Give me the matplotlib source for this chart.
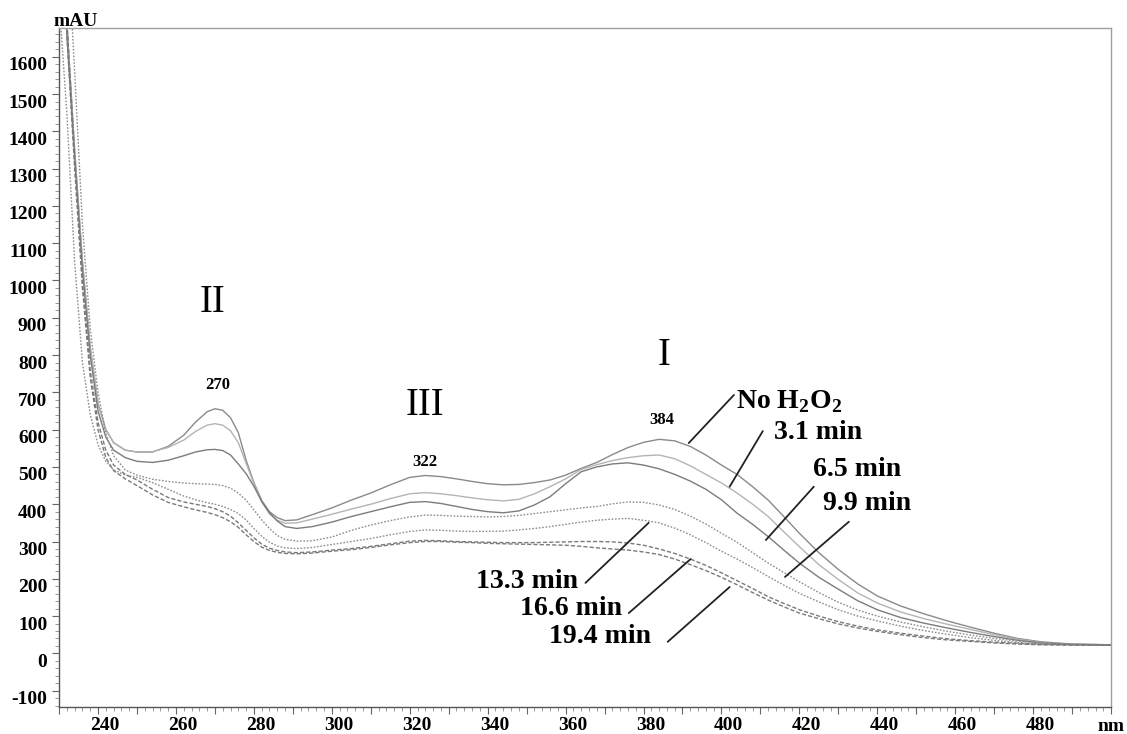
import numpy as np
import matplotlib.pyplot as plt
import matplotlib.transforms as mtransforms
from matplotlib.ticker import MultipleLocator, FuncFormatter

# uv-vis spectra recorded during h2o2 treatment, bands I-III
plt.rcParams['font.family'] = 'Liberation Serif'
plt.rcParams['mathtext.fontset'] = 'custom'
plt.rcParams['mathtext.rm'] = 'Liberation Serif:bold'
plt.rcParams['mathtext.bf'] = 'Liberation Serif:bold'
plt.rcParams['axes.unicode_minus'] = False

# wavelength grid (nm)
wavelength = [230, 232, 234, 236, 238, 240, 242, 244, 247, 250,
              254, 258, 262, 265, 268, 270, 272, 274, 276, 278,
              280, 282, 284, 286, 288, 291, 295, 300, 305, 310,
              315, 320, 324, 328, 332, 336, 340, 344, 348, 352,
              356, 360, 364, 368, 372, 376, 380, 384, 388, 392,
              396, 400, 404, 408, 412, 416, 420, 425, 430, 435,
              440, 446, 452, 458, 464, 470, 476, 482, 490, 500]

# absorbance (mAU) per reaction time
no_h2o2 = [2100, 1690, 1350, 1050, 820, 670, 600, 565, 545, 540,
           540, 555, 585, 620, 648, 656, 652, 632, 592, 518,
           458, 410, 380, 364, 356, 358, 372, 390, 411, 430,
           452, 472, 477, 474, 468, 461, 455, 452, 453, 458,
           465, 478, 496, 512, 533, 552, 566, 574, 570, 555,
           532, 505, 480, 447, 411, 367, 322, 270, 225, 186,
           154, 127, 106, 87, 70, 54, 40, 31, 25, 23]
t_3_1 = [2100, 1690, 1350, 1050, 820, 670, 600, 565, 545, 540,
         541, 552, 572, 595, 612, 616, 612, 597, 565, 510,
         455, 406, 374, 357, 349, 350, 360, 373, 387, 400,
         415, 428, 431, 428, 423, 417, 412, 409, 413, 428,
         447, 468, 493, 506, 517, 525, 530, 532, 522, 503,
         480, 457, 430, 400, 367, 326, 286, 238, 198, 162,
         135, 111, 93, 78, 64, 50, 38, 29, 24, 23]
t_6_5 = [2050, 1660, 1330, 1030, 800, 650, 580, 545, 525, 515,
         512, 518, 530, 540, 546, 547, 544, 532, 508, 482,
         448, 408, 377, 355, 340, 335, 340, 352, 367, 380,
         393, 405, 407, 402, 394, 386, 380, 377, 382, 398,
         420, 455, 487, 500, 508, 511, 505, 495, 480, 462,
         440, 412, 376, 346, 313, 277, 242, 204, 172, 141,
         117, 96, 81, 68, 56, 45, 35, 28, 24, 23]
t_9_9 = [2400, 1950, 1560, 1150, 870, 700, 590, 530, 492, 478,
         467, 461, 457, 455, 454, 453, 450, 443, 430, 411,
         385, 358, 335, 316, 306, 301, 302, 312, 330, 344,
         356, 366, 371, 370, 368, 367, 366, 367, 370, 375,
         380, 385, 390, 394, 401, 406, 405, 398, 386, 368,
         347, 322, 298, 270, 242, 217, 192, 163, 137, 116,
         100, 84, 71, 59, 49, 40, 33, 27, 24, 22]
t_13_3 = [1750, 1450, 1050, 780, 640, 560, 515, 492, 478, 472,
          458, 440, 422, 412, 404, 400, 394, 386, 375, 358,
          335, 314, 298, 288, 283, 281, 284, 292, 300, 308,
          318, 327, 331, 330, 328, 327, 327, 328, 331, 335,
          340, 346, 352, 357, 360, 362, 357, 350, 336, 318,
          297, 274, 253, 230, 206, 183, 161, 138, 117, 100,
          87, 73, 61, 51, 42, 35, 29, 25, 23, 22]
t_16_6 = [2100, 1700, 1330, 1000, 760, 620, 545, 505, 480, 465,
          440, 418, 406, 400, 394, 388, 380, 368, 350, 330,
          310, 293, 282, 276, 272, 270, 272, 277, 281, 287,
          294, 301, 303, 302, 300, 299, 298, 297, 297, 297,
          298, 299, 300, 300, 299, 296, 290, 280, 268, 253,
          236, 216, 195, 174, 152, 134, 117, 100, 85, 73,
          63, 54, 46, 39, 34, 30, 27, 24, 23, 22]
t_19_4 = [2050, 1660, 1300, 980, 740, 600, 525, 490, 468, 450,
          425, 405, 393, 385, 378, 372, 364, 353, 338, 318,
          300, 285, 276, 271, 268, 267, 269, 274, 278, 284,
          291, 297, 300, 300, 298, 297, 295, 294, 293, 292,
          291, 290, 287, 283, 280, 277, 272, 265, 253, 238,
          222, 204, 184, 163, 143, 125, 108, 93, 79, 68,
          59, 50, 42, 36, 32, 28, 25, 23, 22, 22]

spectra = [no_h2o2, t_3_1, t_6_5, t_9_9, t_13_3, t_16_6, t_19_4]
labels = ["No H$_2$O$_2$", "3.1 min", "6.5 min", "9.9 min",
          "13.3 min", "16.6 min", "19.4 min"]

# peak maxima and band names
peak_nm = [270, 322, 384]
bands = ["II", "III", "I"]

colors = ["#8a8a8a", "#b4b4b4", "#7c7c7c", "#8e8e8e", "#8e8e8e", "#7a7a7a", "#7a7a7a"]
styles = ["-", "-", "-", (0, (1.2, 1.2)), (0, (1.2, 1.2)), (0, (3, 1.5)), (0, (3, 1.5))]

fig = plt.figure(figsize=(11.27, 7.34), dpi=100)
ax = fig.add_axes([0.0524, 0.0372, 0.9335, 0.9251])

for y, c, ls in zip(spectra, colors, styles):
    ax.plot(wavelength, y, color=c, linestyle=ls, linewidth=1.0)

ax.set_xlim(230, 500)
ax.set_ylim(-143, 1678)

# axis frame: dark left/bottom, light top/right
for side in ["left", "bottom"]:
    ax.spines[side].set_color("#555555")
    ax.spines[side].set_linewidth(1.0)
for side in ["top", "right"]:
    ax.spines[side].set_color("#a0a0a0")
    ax.spines[side].set_linewidth(1.0)

ax.xaxis.set_major_locator(MultipleLocator(10))
ax.xaxis.set_minor_locator(MultipleLocator(2))
ax.xaxis.set_major_formatter(FuncFormatter(lambda v, p: f"{int(round(v))}" if round(v) % 20 == 0 and v < 495 else ""))
ax.yaxis.set_major_locator(MultipleLocator(100))
ax.yaxis.set_minor_locator(MultipleLocator(20))
ax.yaxis.set_major_formatter(FuncFormatter(lambda v, p: f"{int(round(v))}"))

ax.tick_params(which="major", direction="out", length=5, width=0.8, color="#666666",
               labelsize=14, top=False, right=False)
ax.tick_params(which="minor", direction="out", length=3, width=0.6, color="#888888",
               top=False, right=False)
ax.tick_params(axis="x", pad=2.5)
ax.tick_params(axis="y", pad=3.5)
for lab in ax.get_xticklabels() + ax.get_yticklabels():
    lab.set_fontweight("bold")

# printed labels sit a little right of / below their ticks
dx = mtransforms.ScaledTranslation(7 / 100, 0, fig.dpi_scale_trans)
dy = mtransforms.ScaledTranslation(0, -7 / 100, fig.dpi_scale_trans)
for lab in ax.xaxis.get_majorticklabels():
    lab.set_transform(lab.get_transform() + dx)
for lab in ax.yaxis.get_majorticklabels():
    lab.set_transform(lab.get_transform() + dy)

fig.text(76 / 1127, 1 - 26 / 734, "mAU", ha="center", va="baseline",
         fontsize=14, fontweight="bold")
fig.text(1111 / 1127, 1 - 731 / 734, "nm", ha="center", va="baseline",
         fontsize=14, fontweight="bold")

# band numerals and peak wavelengths
band_pos = [(269.5, 942), (323.8, 666), (385.2, 800)]
for name, (bx, by) in zip(bands, band_pos):
    ax.text(bx, by, name, ha="center", va="center", fontsize=28)
peak_y = [720, 513, 626]
peak_dx = [0.8, 2.0, 0.6]
for p, py, off in zip(peak_nm, peak_y, peak_dx):
    ax.text(p + off, py, str(p), ha="center", va="center", fontsize=12, fontweight="bold")

# leader lines from each label to its spectrum
leaders = [
    ((403.2, 693), (391.6, 564)),
    ((410.6, 596), (402.1, 447)),
    ((423.7, 447), (411.4, 304)),
    ((432.7, 353), (416.3, 205)),
    ((365.1, 189), (381.3, 350)),
    ((376.2, 108), (392.1, 253)),
    ((386.2, 31), (402.1, 178)),
]
text_pos = [
    (403.8, 674, "left"),
    (413.4, 591, "left"),
    (423.4, 492, "left"),
    (426.0, 403, "left"),
    (363.3, 192, "right"),
    (374.6, 119, "right"),
    (381.8, 44, "right"),
]
for lab, (p0, p1), (tx, ty, ha) in zip(labels, leaders, text_pos):
    ax.annotate("", xy=p1, xytext=p0,
                arrowprops=dict(arrowstyle="-", color="#222222", lw=1.3,
                                shrinkA=0, shrinkB=0))
    ax.text(tx, ty, lab, ha=ha, va="center", fontsize=20, fontweight="bold")

fig.savefig("out.png", dpi=100)
